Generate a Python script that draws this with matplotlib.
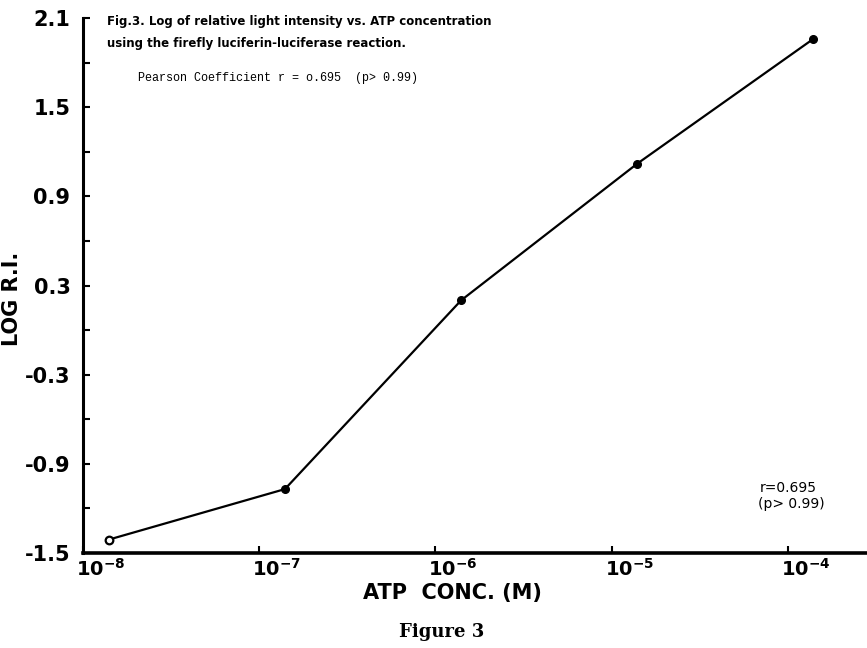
import matplotlib
matplotlib.use("Agg")
import matplotlib.pyplot as plt
import matplotlib.transforms as mtrans
import numpy as np

# Data
atp_conc = [1.4e-8, 1.4e-7, 1.4e-6, 1.4e-5, 1.4e-4]
log_ri = [-1.41, -1.07, 0.20, 1.12, 1.96]
y_ticks = [-1.5, -0.9, -0.3, 0.3, 0.9, 1.5, 2.1]
y_tick_labels = ["-1.5", "-0.9", "-0.3", "0.3", "0.9", "1.5", "2.1"]
x_ticks = [1e-8, 1e-7, 1e-6, 1e-5, 1e-4]
x_tick_labels = [r"$\mathbf{10^{-8}}$", r"$\mathbf{10^{-7}}$", r"$\mathbf{10^{-6}}$",
                 r"$\mathbf{10^{-5}}$", r"$\mathbf{10^{-4}}$"]

W, H = 867, 648
fig = plt.figure(figsize=(W / 100, H / 100), dpi=100)
fig.patch.set_facecolor("white")

def px(x, y):
    return x / W, 1 - y / H

ax = fig.add_axes([83 / W, (H - 553) / H, (W - 83) / W, (553 - 18) / H])
ax.set_xscale("log")
ax.set_xlim(1e-8, 10 ** -3.55)
ax.set_ylim(-1.5, 2.1)

ax.plot(atp_conc, log_ri, color="black", lw=1.6, zorder=3)
ax.plot(atp_conc[1:], log_ri[1:], "o", color="black", ms=5.5, zorder=4)
ax.plot(atp_conc[:1], log_ri[:1], "o", mfc="white", mec="black", mew=1.6, ms=5.5, zorder=4)

for s in ["top", "right"]:
    ax.spines[s].set_visible(False)
ax.spines["left"].set_linewidth(2.2)
ax.spines["bottom"].set_linewidth(2.6)

ax.set_yticks(y_ticks)
ax.set_yticklabels(y_tick_labels, fontsize=15, fontweight="bold")
ax.set_yticks(np.arange(-1.2, 2.1, 0.6), minor=True)
ax.set_xticks(x_ticks)
ax.set_xticklabels([])
ax.xaxis.set_minor_locator(matplotlib.ticker.NullLocator())
ax.tick_params(axis="y", which="both", direction="in", length=5, width=1.5, pad=9)
ax.tick_params(axis="x", which="major", direction="in", length=5, width=1.5)

# x tick labels: "10" roughly centred on the tick, exponent to the right
offset = mtrans.ScaledTranslation(-0.07, -0.05, fig.dpi_scale_trans)
for xv, lab in zip(x_ticks, x_tick_labels):
    ax.text(xv, 0, lab, fontsize=14, ha="left", va="top",
            transform=ax.get_xaxis_transform() + offset, clip_on=False)

ax.set_ylabel("LOG R.I.", fontsize=15, fontweight="bold")
ax.yaxis.set_label_coords(-(83 - 22) / (W - 83), (553 - 299) / (553 - 18))

fig.text(*px(452, 593), "ATP  CONC. (M)", fontsize=15, fontweight="bold",
         ha="center", va="center")
fig.text(*px(442, 632), "Figure 3", fontsize=13, fontweight="bold",
         family="DejaVu Serif", ha="center", va="center")

fig.text(*px(107, 22), "Fig.3. Log of relative light intensity vs. ATP concentration",
         fontsize=8.5, fontweight="bold", ha="left", va="center")
fig.text(*px(107, 43), "using the firefly luciferin-luciferase reaction.",
         fontsize=8.5, fontweight="bold", ha="left", va="center")
fig.text(*px(138, 78), "Pearson Coefficient r = o.695  (p> 0.99)",
         fontsize=8.5, family="Liberation Mono", ha="left", va="center")

fig.text(*px(760, 488), "r=0.695", fontsize=10, ha="left", va="center")
fig.text(*px(758, 504), "(p> 0.99)", fontsize=10, ha="left", va="center")

fig.savefig("out.png", dpi=100, facecolor="white")
